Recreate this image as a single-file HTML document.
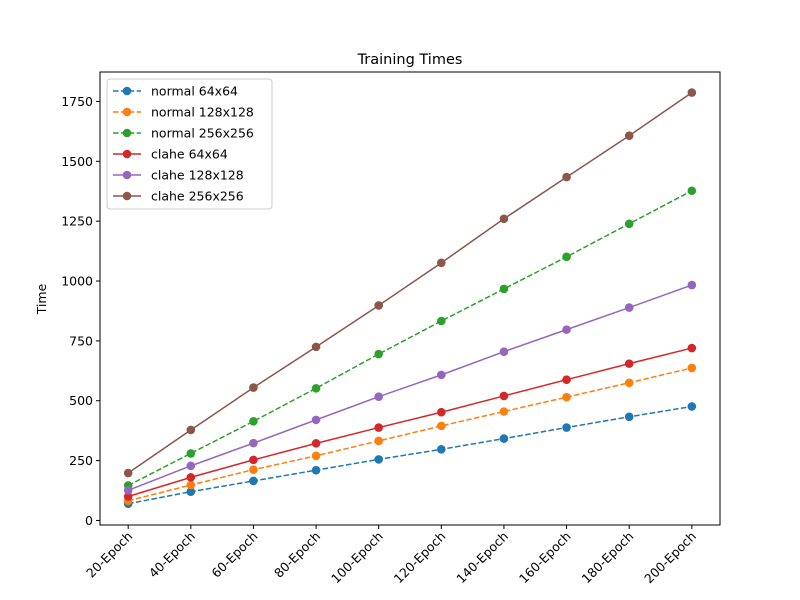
<!DOCTYPE html>
<html><head><meta charset="utf-8"><style>
body{margin:0;background:#fff;}
svg{display:block;font-family:"DejaVu Sans","Liberation Sans",sans-serif;}
</style></head><body>
<svg id="chart" width="800" height="600">
<rect x="0" y="0" width="800" height="600" fill="#fff"/>
<text x="410" y="64" font-size="14.5" text-anchor="middle">Training Times</text>
<text x="0" y="0" font-size="12.5" text-anchor="middle" transform="translate(46,299) rotate(-90)">Time</text>
<g id="grid"></g>
<g id="series"></g>
<rect x="100" y="72" width="620" height="453" fill="none" stroke="#000" stroke-width="1"/>
<g id="legend"></g>
</svg>
<script>
const categories = ["20-Epoch","40-Epoch","60-Epoch","80-Epoch","100-Epoch","120-Epoch","140-Epoch","160-Epoch","180-Epoch","200-Epoch"];
const seriesNames = ["normal 64x64","normal 128x128","normal 256x256","clahe 64x64","clahe 128x128","clahe 256x256"];
const normal64 = [70,120,165,210,255,297,342,388,433,476];
const normal128 = [82,148,212,270,332,395,455,515,575,637];
const normal256 = [146,280,414,552,695,833,967,1101,1239,1377];
const clahe64 = [100,180,253,322,388,452,520,588,655,720];
const clahe128 = [126,228,323,420,517,608,705,797,889,983];
const clahe256 = [198,378,555,725,898,1076,1260,1434,1607,1787];
const yTicks = [0,250,500,750,1000,1250,1500,1750];

const seriesData = [normal64,normal128,normal256,clahe64,clahe128,clahe256];
const colors = ["#1f77b4","#ff7f0e","#2ca02c","#d62728","#9467bd","#8c564b"];
const dashed = [true,true,true,false,false,false];
const NS="http://www.w3.org/2000/svg";
const L=100,R=720,T=72,B=525;
const yMin=-19,yMax=1873;
function xScale(i){const n=categories.length;return L+(i+0.45)/(n-1+0.9)*(R-L);}
function yScale(v){return B-(v-yMin)/(yMax-yMin)*(B-T);}
function mk(tag,attrs,parent){const e=document.createElementNS(NS,tag);for(const k in attrs)e.setAttribute(k,attrs[k]);parent.appendChild(e);return e;}
const grid=document.getElementById('grid');
yTicks.forEach(t=>{
  const y=yScale(t);
  const ln=mk('line',{x1:L-4,x2:L,y1:y,y2:y,stroke:'#000'},grid);
  
  
  const tx=mk('text',{x:L-7,y:y+4.5,'font-size':12.5,'text-anchor':'end'},grid);
  tx.textContent=t;
  
  
});
categories.forEach((c,i)=>{
  const x=xScale(i);
  const ln=mk('line',{x1:x,x2:x,y1:B,y2:B+4,stroke:'#000'},grid);
  
  
  const tx=mk('text',{x:0,y:0,'font-size':12.5,'text-anchor':'end',transform:`translate(${x+5},${B+12}) rotate(-45)`},grid);
  tx.textContent=c;
  
  
});
const sg=document.getElementById('series');
seriesData.forEach((d,s)=>{
  const g=mk('g',{},sg);
  
  
  const pts=d.map((v,i)=>xScale(i)+','+yScale(v)).join(' ');
  const pl=mk('polyline',{points:pts,fill:'none',stroke:colors[s],'stroke-width':1.5},g);
  if(dashed[s])pl.setAttribute('stroke-dasharray','5.5,2.4');
  
  
  d.forEach((v,i)=>{
    const c=mk('circle',{cx:xScale(i),cy:yScale(v),r:4.3,fill:colors[s]},g);
    
    
  });
});
const lg=document.getElementById('legend');
const box=mk('rect',{x:107,y:79,width:165,height:130,rx:3,fill:'#fff','fill-opacity':0.8,stroke:'#ccc'},lg);


seriesNames.forEach((n,s)=>{
  const y=91+s*21;
  const g=mk('g',{},lg);
  
  
  const ln=mk('line',{x1:113,x2:141,y1:y,y2:y,stroke:colors[s],'stroke-width':1.5},g);
  if(dashed[s])ln.setAttribute('stroke-dasharray','5.5,2.4');
  mk('circle',{cx:127,cy:y,r:4.3,fill:colors[s]},g);
  const tx=mk('text',{x:151,y:y+4.5,'font-size':12.5},g);
  tx.textContent=n;
});
</script>
</body></html>
